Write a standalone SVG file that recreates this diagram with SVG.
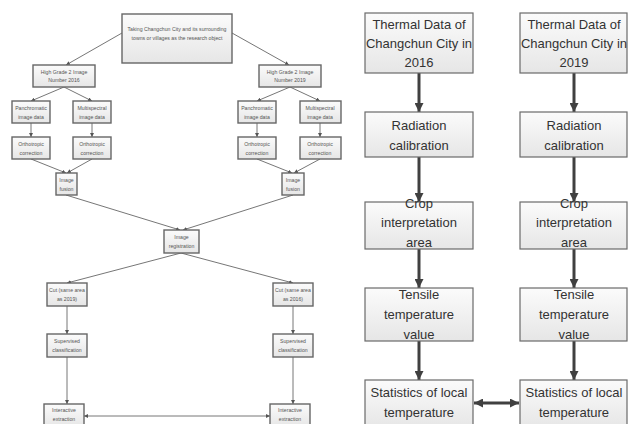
<svg xmlns="http://www.w3.org/2000/svg" width="628" height="424" viewBox="0 0 628 424">
<defs>
<linearGradient id="g" x1="0" y1="0" x2="0" y2="1"><stop offset="0" stop-color="#fbfbfb"/><stop offset="1" stop-color="#e6e6e6"/></linearGradient>
<marker id="sa" viewBox="0 0 6 6" refX="6" refY="3" markerWidth="4" markerHeight="4" orient="auto-start-reverse" markerUnits="userSpaceOnUse"><path d="M0,0 L6,3 L0,6 z" fill="#555"/></marker>
<marker id="ba" viewBox="0 0 10 10" refX="10" refY="5" markerWidth="9" markerHeight="9" orient="auto-start-reverse" markerUnits="userSpaceOnUse"><path d="M0,0 L10,5 L0,10 z" fill="#404040"/></marker>
</defs>
<style>
.s rect{fill:url(#g);stroke:#666;stroke-width:1.4}
.s text{font-family:"Liberation Sans",Arial,sans-serif;font-size:5.2px;fill:#555;text-anchor:middle}
.b rect{fill:url(#g);stroke:#6a6a6a;stroke-width:1.2}
.b text{font-family:"Liberation Sans",Arial,sans-serif;font-size:13px;fill:#333;text-anchor:middle}
.sc line{stroke:#666;stroke-width:0.9;marker-end:url(#sa)}
.bc line{stroke:#404040;stroke-width:3;marker-end:url(#ba)}
</style>
<rect width="628" height="424" fill="#fff"/>
<g id="connectors">
<g class="sc">
<line x1="122" y1="33" x2="66" y2="65"/>
<line x1="232" y1="33" x2="289" y2="65"/>
<line x1="64" y1="87" x2="31" y2="101"/>
<line x1="64" y1="87" x2="92" y2="101"/>
<line x1="290" y1="87" x2="257" y2="101"/>
<line x1="290" y1="87" x2="320" y2="101"/>
<line x1="31" y1="123" x2="31" y2="137"/>
<line x1="92" y1="123" x2="92" y2="137"/>
<line x1="257" y1="123" x2="257" y2="137"/>
<line x1="320" y1="123" x2="320" y2="137"/>
<line x1="31" y1="159" x2="66" y2="173"/>
<line x1="92" y1="159" x2="67" y2="173"/>
<line x1="257" y1="159" x2="292" y2="173"/>
<line x1="320" y1="159" x2="294" y2="173"/>
<line x1="66" y1="195" x2="180" y2="230"/>
<line x1="293" y1="195" x2="183" y2="230"/>
<line x1="181" y1="253" x2="67" y2="283"/>
<line x1="181" y1="253" x2="293" y2="283"/>
<line x1="67" y1="306" x2="67" y2="334"/>
<line x1="293" y1="306" x2="293" y2="334"/>
<line x1="67" y1="357" x2="67" y2="404"/>
<line x1="293" y1="357" x2="293" y2="404"/>
<line x1="84" y1="416" x2="270" y2="416" style="marker-start:url(#sa)"/>
</g>
<g class="bc">
<line x1="419" y1="73" x2="419" y2="112"/>
<line x1="419" y1="157" x2="419" y2="202"/>
<line x1="419" y1="249" x2="419" y2="288"/>
<line x1="419" y1="341" x2="419" y2="380"/>
<line x1="574" y1="73" x2="574" y2="112"/>
<line x1="574" y1="157" x2="574" y2="202"/>
<line x1="574" y1="249" x2="574" y2="288"/>
<line x1="574" y1="341" x2="574" y2="380"/>
<line x1="474" y1="403" x2="519" y2="403" style="marker-start:url(#ba)"/>
</g>
</g>
<g class="s">
<g id="top"><rect x="122" y="14" width="110" height="49"/><text x="177" y="31">Taking Changchun City and its surrounding</text><text x="177" y="40">towns or villages as the research object</text></g>
<g id="hg16"><rect x="33" y="65" width="62" height="22"/><text x="64" y="74">High Grade 2 Image</text><text x="64" y="82">Number 2016</text></g>
<g id="hg19"><rect x="259" y="65" width="62" height="22"/><text x="290" y="74">High Grade 2 Image</text><text x="290" y="82">Number 2019</text></g>
<g id="pan16"><rect x="12" y="101" width="38" height="22"/><text x="31" y="110">Panchromatic</text><text x="31" y="119">image data</text></g>
<g id="ms16"><rect x="73" y="101" width="38" height="22"/><text x="92" y="110">Multispectral</text><text x="92" y="119">image data</text></g>
<g id="pan19"><rect x="238" y="101" width="38" height="22"/><text x="257" y="110">Panchromatic</text><text x="257" y="119">image data</text></g>
<g id="ms19"><rect x="300" y="101" width="41" height="22"/><text x="320" y="110">Multispectral</text><text x="320" y="119">image data</text></g>
<g id="or16a"><rect x="12" y="137" width="38" height="22"/><text x="31" y="146">Orthotropic</text><text x="31" y="155">correction</text></g>
<g id="or16b"><rect x="73" y="137" width="38" height="22"/><text x="92" y="146">Orthotropic</text><text x="92" y="155">correction</text></g>
<g id="or19a"><rect x="238" y="137" width="38" height="22"/><text x="257" y="146">Orthotropic</text><text x="257" y="155">correction</text></g>
<g id="or19b"><rect x="300" y="137" width="41" height="22"/><text x="320" y="146">Orthotropic</text><text x="320" y="155">correction</text></g>
<g id="fus16"><rect x="56" y="173" width="21" height="22"/><text x="66.5" y="182">Image</text><text x="66.5" y="191">fusion</text></g>
<g id="fus19"><rect x="282" y="173" width="22" height="22"/><text x="293" y="182">Image</text><text x="293" y="191">fusion</text></g>
<g id="reg"><rect x="164" y="230" width="35" height="23"/><text x="181.5" y="239">Image</text><text x="181.5" y="248">registration</text></g>
<g id="cut19"><rect x="47" y="283" width="40" height="23"/><text x="67" y="292">Cut (same area</text><text x="67" y="301">as 2019)</text></g>
<g id="cut16"><rect x="273" y="283" width="40" height="23"/><text x="293" y="292">Cut (same area</text><text x="293" y="301">as 2016)</text></g>
<g id="sup16"><rect x="47" y="334" width="40" height="23"/><text x="67" y="343">Supervised</text><text x="67" y="352">classification</text></g>
<g id="sup19"><rect x="273" y="334" width="40" height="23"/><text x="293" y="343">Supervised</text><text x="293" y="352">classification</text></g>
<g id="int16"><rect x="44" y="404" width="40" height="23"/><text x="64" y="412">Interactive</text><text x="64" y="421">extraction</text></g>
<g id="int19"><rect x="270" y="404" width="40" height="23"/><text x="290" y="412">Interactive</text><text x="290" y="421">extraction</text></g>
</g>
<g class="b">
<g id="t16"><rect x="365" y="13" width="108" height="60"/><text x="419" y="29">Thermal Data of</text><text x="419" y="48">Changchun City in</text><text x="419" y="67">2016</text></g>
<g id="t19"><rect x="520" y="13" width="107" height="60"/><text x="574" y="29">Thermal Data of</text><text x="574" y="48">Changchun City in</text><text x="574" y="67">2019</text></g>
<g id="rad16"><rect x="365" y="112" width="108" height="45"/><text x="419" y="130">Radiation</text><text x="419" y="150">calibration</text></g>
<g id="rad19"><rect x="520" y="112" width="107" height="45"/><text x="574" y="130">Radiation</text><text x="574" y="150">calibration</text></g>
<g id="crop16"><rect x="365" y="202" width="108" height="47"/><text x="419" y="208">Crop</text><text x="419" y="227">interpretation</text><text x="419" y="247">area</text></g>
<g id="crop19"><rect x="520" y="202" width="107" height="47"/><text x="574" y="208">Crop</text><text x="574" y="227">interpretation</text><text x="574" y="247">area</text></g>
<g id="ten16"><rect x="365" y="288" width="108" height="53"/><text x="419" y="299">Tensile</text><text x="419" y="319">temperature</text><text x="419" y="339">value</text></g>
<g id="ten19"><rect x="520" y="288" width="107" height="53"/><text x="574" y="299">Tensile</text><text x="574" y="319">temperature</text><text x="574" y="339">value</text></g>
<g id="st16"><rect x="365" y="380" width="108" height="48"/><text x="419" y="397">Statistics of local</text><text x="419" y="417">temperature</text></g>
<g id="st19"><rect x="520" y="380" width="107" height="48"/><text x="574" y="397">Statistics of local</text><text x="574" y="417">temperature</text></g>
</g>
</svg>
